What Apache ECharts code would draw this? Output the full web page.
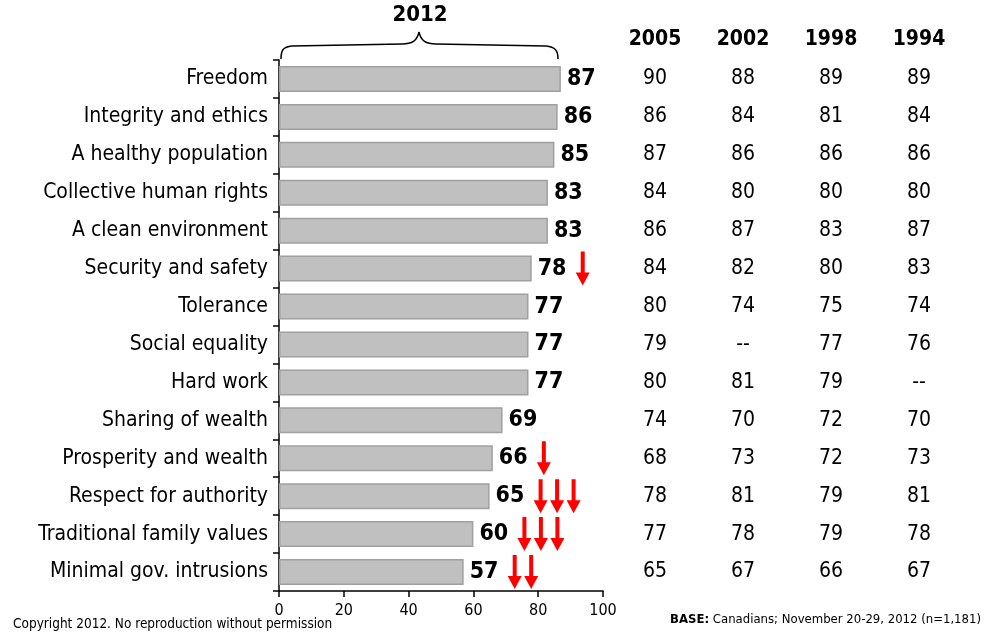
<!DOCTYPE html>
<html>
<head>
<meta charset="utf-8">
<script src="https://cdn.jsdelivr.net/npm/echarts@6/dist/echarts.min.js"></script>
<style>
  html, body { margin: 0; padding: 0; background: #ffffff; }
  #main { width: 990px; height: 635px; }
</style>
</head>
<body>
<div id="main"></div>
<script>
// Values Canadians associate with the country, 2012 vs earlier waves
const categories = [
  'Freedom', 'Integrity and ethics', 'A healthy population', 'Collective human rights',
  'A clean environment', 'Security and safety', 'Tolerance', 'Social equality',
  'Hard work', 'Sharing of wealth', 'Prosperity and wealth', 'Respect for authority',
  'Traditional family values', 'Minimal gov. intrusions'
];
const values2012 = [87, 86, 85, 83, 83, 78, 77, 77, 77, 69, 66, 65, 60, 57];
// number of red "significant decline" arrows drawn after each 2012 value
const declineArrows = [0, 0, 0, 0, 0, 1, 0, 0, 0, 0, 1, 3, 3, 2];

const years = ['2005', '2002', '1998', '1994'];
const values2005 = [90, 86, 87, 84, 86, 84, 80, 79, 80, 74, 68, 78, 77, 65];
const values2002 = [88, 84, 86, 80, 87, 82, 74, null, 81, 70, 73, 81, 78, 67];
const values1998 = [89, 81, 86, 80, 83, 80, 75, 77, 79, 72, 72, 79, 79, 66];
const values1994 = [89, 84, 86, 80, 87, 83, 74, 76, null, 70, 73, 81, 78, 67];

const xTicks = [0, 20, 40, 60, 80, 100];

const FONT = '"DejaVu Sans Condensed", "DejaVu Sans", sans-serif';

const chart = echarts.init(document.getElementById('main'), null, { renderer: 'canvas' });

const history = [values2005, values2002, values1998, values1994];
const tableData = [];
history.forEach((col, j) => {
  col.forEach((v, i) => tableData.push([j, i, v]));
});

const arrowData = values2012.map((v, i) => [v, i, declineArrows[i]]).filter(d => d[2] > 0);

function renderArrows(params, api) {
  const v = api.value(0);
  const row = api.value(1);
  const n = api.value(2);
  const p = api.coord([v, row]);
  const children = [];
  for (let k = 0; k < n; k++) {
    const x = p[0] + 51 + k * 16.5;
    const c = p[1];
    children.push({
      type: 'polygon',
      shape: {
        points: [
          [x - 2, c - 17], [x + 2, c - 17], [x + 2, c + 4], [x + 7, c + 4],
          [x, c + 17], [x - 7, c + 4], [x - 2, c + 4]
        ]
      },
      style: { fill: '#ff0000' }
    });
  }
  return { type: 'group', children };
}

// curly brace over the 2012 bars
const braceStyle = { fill: 'none', stroke: '#000', lineWidth: 1.5 };
const brace = [
  { type: 'bezierCurve', shape: { x1: 281, y1: 59, cpx1: 281, cpy1: 50, cpx2: 283, cpy2: 47, x2: 292, y2: 46 }, style: braceStyle },
  { type: 'line', shape: { x1: 292, y1: 46, x2: 402, y2: 44 }, style: braceStyle },
  { type: 'bezierCurve', shape: { x1: 402, y1: 44, cpx1: 412, cpy1: 44, cpx2: 417, cpy2: 41, x2: 419, y2: 32 }, style: braceStyle },
  { type: 'bezierCurve', shape: { x1: 419, y1: 32, cpx1: 421, cpy1: 41, cpx2: 426, cpy2: 44, x2: 436, y2: 44 }, style: braceStyle },
  { type: 'line', shape: { x1: 436, y1: 44, x2: 546, y2: 46 }, style: braceStyle },
  { type: 'bezierCurve', shape: { x1: 546, y1: 46, cpx1: 555, cpy1: 47, cpx2: 558, cpy2: 50, x2: 558, y2: 59 }, style: braceStyle }
];

chart.setOption({
  animation: false,
  backgroundColor: '#ffffff',
  textStyle: { fontFamily: FONT },
  grid: [
    { left: 279, width: 324, top: 60, height: 531 },
    { left: 611, width: 352, top: 60, height: 531 }
  ],
  xAxis: [
    {
      type: 'value', gridIndex: 0,
      min: xTicks[0], max: xTicks[xTicks.length - 1], interval: 20,
      splitLine: { show: false },
      axisLine: { show: true, lineStyle: { color: '#000', width: 1.5 } },
      axisTick: { show: true, length: 6, lineStyle: { color: '#000', width: 1.5 } },
      axisLabel: { color: '#000', fontSize: 16, fontFamily: FONT, margin: 12 }
    },
    {
      type: 'category', gridIndex: 1, position: 'top', data: years,
      axisLine: { show: false }, axisTick: { show: false },
      axisLabel: { color: '#000', fontSize: 21, fontWeight: 'bold', fontFamily: FONT, margin: 10 }
    }
  ],
  yAxis: [
    {
      type: 'category', gridIndex: 0, inverse: true, data: categories,
      axisLine: { show: true, lineStyle: { color: '#000', width: 1.5 } },
      axisTick: { show: true, length: 6, lineStyle: { color: '#000', width: 1.5 } },
      axisLabel: { color: '#000', fontSize: 21, fontFamily: FONT, margin: 11 }
    },
    {
      type: 'category', gridIndex: 1, inverse: true, data: categories, show: false
    }
  ],
  series: [
    {
      type: 'bar', xAxisIndex: 0, yAxisIndex: 0,
      data: values2012,
      barWidth: 26,
      itemStyle: { color: '#c0c0c0', borderColor: '#a0a0a0', borderWidth: 1.5 },
      label: {
        show: true, position: 'right', distance: 6,
        color: '#000', fontSize: 23, fontWeight: 'bold', fontFamily: FONT
      }
    },
    {
      type: 'custom', xAxisIndex: 0, yAxisIndex: 0,
      data: arrowData,
      renderItem: renderArrows,
      z: 5
    },
    {
      type: 'scatter', xAxisIndex: 1, yAxisIndex: 1,
      data: tableData,
      symbolSize: 0,
      itemStyle: { opacity: 1 },
      label: {
        show: true, position: 'inside',
        color: '#000', fontSize: 21, fontFamily: FONT,
        formatter: p => (p.value[2] == null ? '--' : String(p.value[2]))
      }
    }
  ],
  graphic: [
    { type: 'group', children: brace },
    {
      type: 'text', x: 420, y: 15,
      style: {
        text: '2012', align: 'center', verticalAlign: 'middle',
        font: 'bold 22px ' + FONT, fill: '#000'
      }
    },
    {
      type: 'text', left: 13, top: 617,
      style: {
        text: 'Copyright 2012. No reproduction without permission',
        font: '13.5px ' + FONT, fill: '#000'
      }
    },
    {
      type: 'text', right: 9, top: 613,
      style: {
        text: '{b|BASE:} Canadians; November 20-29, 2012 (n=1,181)',
        font: '13px ' + FONT, fill: '#000',
        rich: { b: { fontWeight: 'bold', fontSize: 13, fontFamily: FONT } }
      }
    }
  ]
});
</script>
</body>
</html>
